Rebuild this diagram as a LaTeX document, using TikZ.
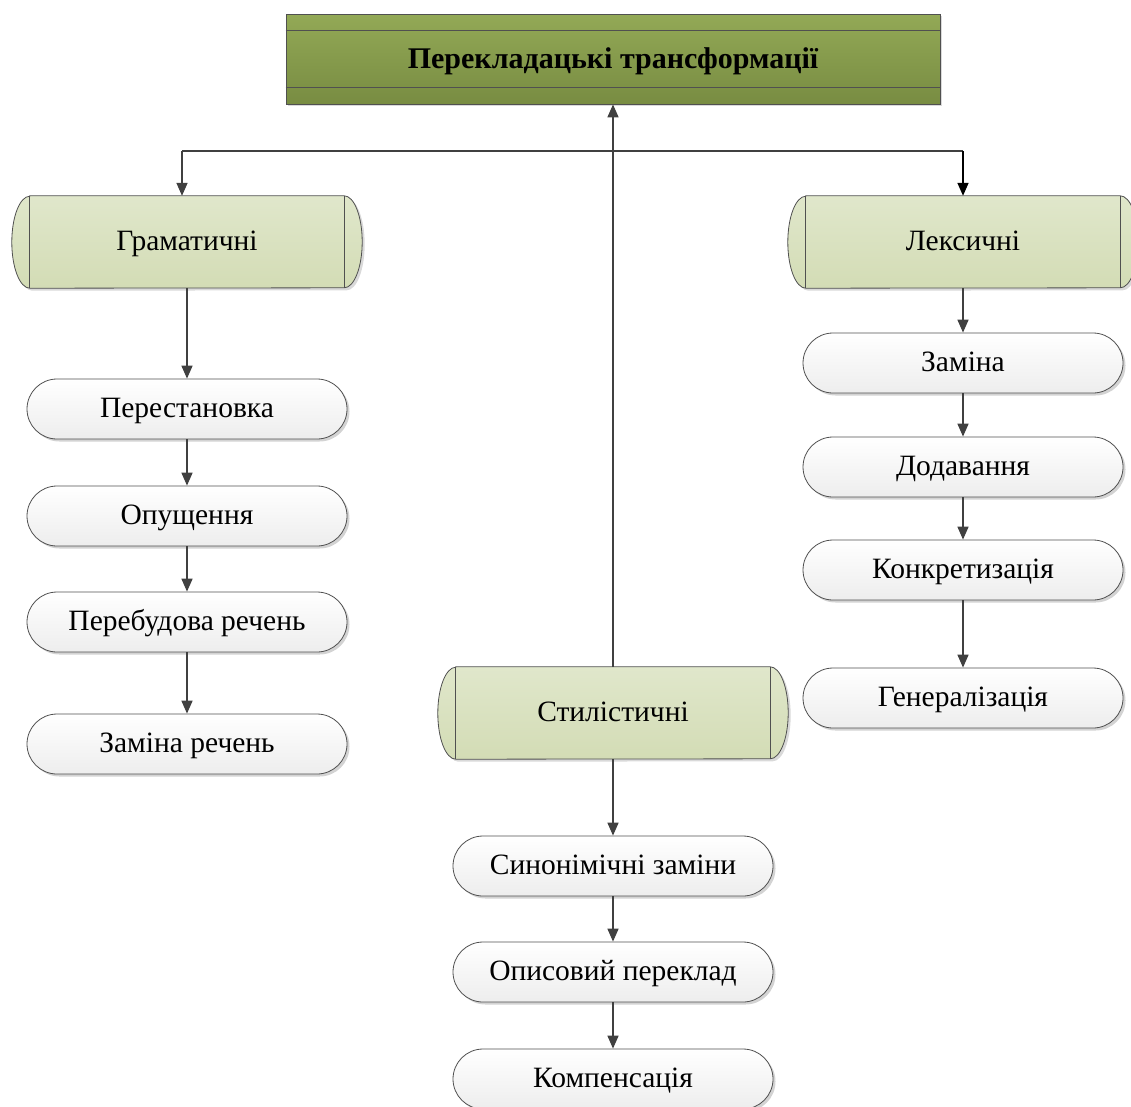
\documentclass[tikz,border=0pt]{standalone}
\usepackage{fontspec}
\setmainfont{Liberation Serif}
\usetikzlibrary{arrows.meta,shadows}
\definecolor{olivetop}{HTML}{93A956}
\definecolor{olivebot}{HTML}{788C42}
\definecolor{lgtop}{HTML}{E0E7CB}
\definecolor{lgbot}{HTML}{D3DCB5}
\definecolor{edge}{HTML}{505050}
\definecolor{arrc}{HTML}{404040}
\begin{document}
\begin{tikzpicture}[x=1pt,y=-1pt,
  txt/.style={font=\fontsize{29.5}{33}\selectfont,text height=20pt,text depth=4pt},
  pill/.style={txt,rectangle,rounded corners=30pt,minimum width=320pt,minimum height=60pt,
    draw=edge,line width=0.8pt,top color=white,bottom color=gray!14,
    drop shadow={shadow xshift=2.5pt,shadow yshift=-2.5pt,opacity=0.35}},
  sidebox/.style={txt,rectangle,minimum width=314pt,minimum height=92pt,draw=none},
  sidefill/.style={draw=edge,line width=0.8pt,top color=lgtop,bottom color=lgbot,
    drop shadow={shadow xshift=2.5pt,shadow yshift=-2.5pt,opacity=0.3}},
  arr/.style={draw=arrc,line width=1.6pt,-{Triangle[length=13pt,width=11pt]}},
  ln/.style={draw=arrc,line width=1.6pt}
]
\useasboundingbox (0,0) rectangle (1131,1106);

% top box
\node[rectangle,minimum width=654pt,minimum height=90pt,draw=edge,line width=0.8pt,
  top color=olivetop,bottom color=olivebot,
  drop shadow={shadow xshift=2pt,shadow yshift=-2pt,opacity=0.3},
  font=\bfseries\fontsize{30}{34}\selectfont,text height=21pt,text depth=3pt] (top) at (613,59) {Перекладацькі трансформації};
\draw[draw=edge,line width=0.8pt] ([yshift=-17pt]top.north west) -- ([yshift=-17pt]top.north east);
\draw[draw=edge,line width=0.8pt] ([yshift=17pt]top.south west) -- ([yshift=17pt]top.south east);

% side boxes
\foreach \nm/\px/\py in {gram/187/242, lex/963/242, stil/613/713}{
  \node[sidebox] (\nm) at (\px,\py) {};
  \path[sidefill] (\nm.north west) -- (\nm.north east)
    arc[start angle=90,end angle=-90,x radius=18pt,y radius=46pt]
    -- (\nm.south west)
    arc[start angle=270,end angle=90,x radius=18pt,y radius=46pt] -- cycle;
  \draw[draw=edge,line width=0.8pt] (\nm.north west) -- (\nm.south west);
  \draw[draw=edge,line width=0.8pt] (\nm.north east) -- (\nm.south east);
}
\node[txt] at (gram) {Граматичні};
\node[txt] at (lex) {Лексичні};
\node[txt] at (stil) {Стилістичні};

% left column
\node[pill] (g1) at (187,409) {Перестановка};
\node[pill] (g2) at (187,516) {Опущення};
\node[pill] (g3) at (187,622) {Перебудова речень};
\node[pill] (g4) at (187,744) {Заміна речень};

% right column
\node[pill] (l1) at (963,363) {Заміна};
\node[pill] (l2) at (963,467) {Додавання};
\node[pill] (l3) at (963,570) {Конкретизація};
\node[pill] (l4) at (963,698) {Генералізація};

% centre column
\node[pill] (s1) at (613,866) {Синонімічні заміни};
\node[pill] (s2) at (613,972) {Описовий переклад};
\node[pill] (s3) at (613,1079) {Компенсація};

% connectors
\coordinate (jl) at (182,151);
\coordinate (jr) at (963,151);
\draw[arr] (stil.north) -- (top.south);
\draw[ln] (jl) -- (jr);
\draw[arr] (jl) -- (jl |- gram.north);
\draw[arr,draw=black,fill=black] (jr) -- (lex.north);

\draw[arr] (gram.south) -- (g1.north);
\draw[arr] (g1) -- (g2);
\draw[arr] (g2) -- (g3);
\draw[arr] (g3) -- (g4);

\draw[arr] (lex.south) -- (l1.north);
\draw[arr] (l1) -- (l2);
\draw[arr] (l2) -- (l3);
\draw[arr] (l3) -- (l4);

\draw[arr] (stil.south) -- (s1.north);
\draw[arr] (s1) -- (s2);
\draw[arr] (s2) -- (s3);
\end{tikzpicture}
\end{document}
